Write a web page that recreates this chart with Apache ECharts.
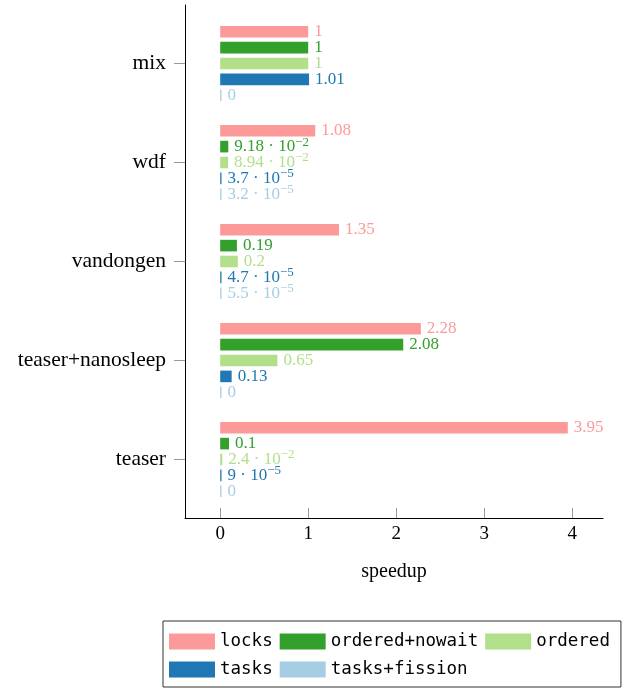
<!DOCTYPE html>
<html><head><meta charset="utf-8">
<script src="https://cdn.jsdelivr.net/npm/echarts@6/dist/echarts.min.js"></script>
<style>html,body{margin:0;padding:0;background:#fff}#c{width:630px;height:689px}</style>
</head><body><div id="c"></div><script>
const categories = ['mix', 'wdf', 'vandongen', 'teaser+nanosleep', 'teaser'];
const seriesNames = ['locks', 'ordered+nowait', 'ordered', 'tasks', 'tasks+fission'];
const locks = [1, 1.08, 1.35, 2.28, 3.95];
const orderedNowait = [1, 0.0918, 0.19, 2.08, 0.1];
const ordered = [1, 0.0894, 0.2, 0.65, 0.024];
const tasks = [1.01, 3.7e-5, 4.7e-5, 0.13, 9e-5];
const tasksFission = [0, 3.2e-5, 5.5e-5, 0, 0];
const xTicks = [0, 1, 2, 3, 4];
const colors = ['#fb9a99', '#33a02c', '#b2df8a', '#1f78b4', '#a6cee3'];
const dataArr = [locks, orderedNowait, ordered, tasks, tasksFission];

const SERIF = 'Liberation Serif';
function fmt(v) {
  if (v === 0) return '0';
  if (v >= 0.1) return String(+v.toFixed(2));
  const e = Math.floor(Math.log10(v));
  const m = +(v / Math.pow(10, e)).toFixed(2);
  return m + ' \u00b7 10{s|\u2212' + (-e) + '}';
}

const chart = echarts.init(document.getElementById('c'), null, {renderer: 'canvas'});
chart.setOption({
  animation: false,
  backgroundColor: '#fff',
  grid: [
    {left: 185, right: 27, top: 14, height: 495, outerBoundsMode: 'none'},
    {left: 185, right: 27, top: 5, bottom: 171, outerBoundsMode: 'none'}
  ],
  xAxis: [
    {gridIndex: 0, type: 'value', min: -0.4, max: 4.35, show: false},
    {gridIndex: 1, type: 'value', min: -0.4, max: 4.35,
      axisLine: {show: true, onZero: false, lineStyle: {color: '#000', width: 1}},
      axisTick: {show: true, inside: true, length: 10, customValues: xTicks, lineStyle: {color: '#999'}},
      axisLabel: {customValues: xTicks, fontFamily: SERIF, fontSize: 19, color: '#000', margin: 7},
      splitLine: {show: false},
      name: 'speedup', nameLocation: 'middle', nameGap: 44,
      nameTextStyle: {fontFamily: SERIF, fontSize: 20, color: '#000'}
    }
  ],
  yAxis: [
    {gridIndex: 0, type: 'category', data: categories, inverse: true,
      axisLine: {show: false, onZero: false},
      axisTick: {show: true, alignWithLabel: true, length: 11, lineStyle: {color: '#999'}},
      axisLabel: {fontFamily: SERIF, fontSize: 21.5, color: '#000', margin: 19},
      splitLine: {show: false}
    },
    {gridIndex: 1, type: 'value', min: 0, max: 1,
      axisLine: {show: true, onZero: false, lineStyle: {color: '#000', width: 1}},
      axisTick: {show: false}, axisLabel: {show: false}, splitLine: {show: false}
    }
  ],
  legend: {
    data: seriesNames, left: 163, top: 621, width: 452,
    itemWidth: 46, itemHeight: 16, itemGap: 7, icon: 'rect',
    borderColor: '#333', borderWidth: 1, padding: [10, 11, 7, 6],
    selectedMode: false,
    textStyle: {fontFamily: 'DejaVu Sans Mono', fontSize: 17.5, color: '#000', lineHeight: 21}
  },
  series: seriesNames.map((n, i) => ({
    name: n, type: 'bar', xAxisIndex: 0, yAxisIndex: 0, data: dataArr[i],
    barWidth: 11.6, barGap: '37%', barMinHeight: 1.3,
    itemStyle: {color: colors[i]},
    emphasis: {disabled: true},
    label: {
      show: true, position: 'right', distance: 6, color: colors[i],
      fontFamily: SERIF, fontSize: 17,
      formatter: p => fmt(p.value),
      rich: {s: {fontFamily: SERIF, fontSize: 13, color: colors[i], padding: [0, 0, 9, 0]}}
    }
  }))
});
</script></body></html>
